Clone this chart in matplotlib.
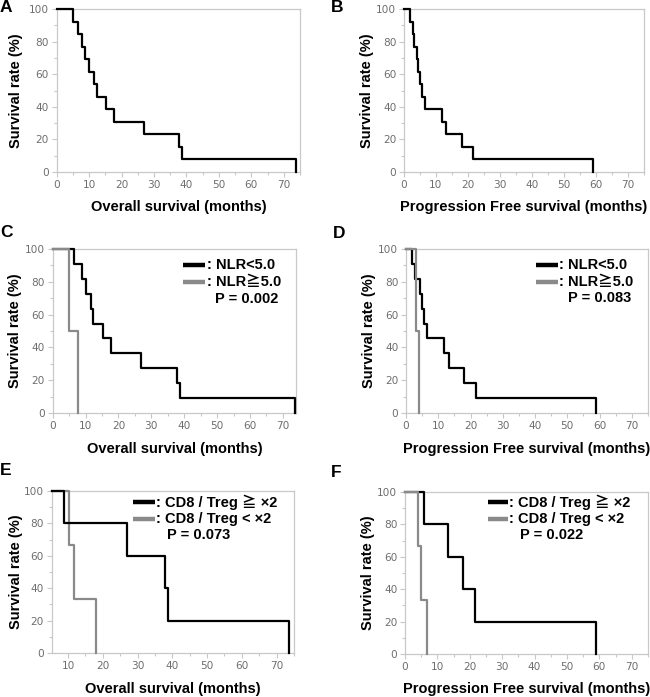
import matplotlib
matplotlib.use("Agg")
import matplotlib.pyplot as plt
from matplotlib.ticker import MultipleLocator

# Kaplan-Meier curves: time (months), survival (%)
# A: overall survival, all patients
os_all_t = [0, 4.9, 6.5, 7.7, 8.8, 10.0, 11.5, 12.4, 15.2, 17.8, 27.0, 37.8, 38.7, 73.7]
os_all_s = [100, 92.3, 84.6, 76.9, 69.2, 61.5, 53.8, 46.2, 38.5, 30.8, 23.1, 15.4, 7.7, 0]
# B: progression free survival, all patients
pfs_all_t = [0, 2.0, 2.8, 3.1, 4.0, 4.4, 4.9, 5.7, 6.5, 11.8, 13.2, 18.0, 21.7, 59.0]
pfs_all_s = [100, 92.3, 84.6, 76.9, 69.2, 61.5, 53.8, 46.2, 38.5, 30.8, 23.1, 15.4, 7.7, 0]
# C: OS by NLR
os_nlr_lo_t = [0, 6.5, 8.8, 10.0, 11.5, 12.4, 15.2, 17.8, 27.0, 37.8, 38.7, 73.7]
os_nlr_lo_s = [100, 90.9, 81.8, 72.7, 63.6, 54.5, 45.5, 36.4, 27.3, 18.2, 9.1, 0]
os_nlr_hi_t = [0, 4.9, 7.7]
os_nlr_hi_s = [100, 50, 0]
# D: PFS by NLR
pfs_nlr_lo_t = [0, 2.0, 2.8, 4.4, 4.9, 5.7, 6.5, 11.8, 13.2, 18.0, 21.7, 59.0]
pfs_nlr_lo_s = [100, 90.9, 81.8, 72.7, 63.6, 54.5, 45.5, 36.4, 27.3, 18.2, 9.1, 0]
pfs_nlr_hi_t = [0, 3.1, 4.0]
pfs_nlr_hi_s = [100, 50, 0]
# E: OS by CD8/Treg (x axis starts at ~5 months here)
os_cd8_hi_t = [5.3, 8.8, 27.0, 37.8, 38.7, 73.5]
os_cd8_hi_s = [100, 80, 60, 40, 20, 0]
os_cd8_lo_t = [5.3, 10.2, 11.6, 17.9]
os_cd8_lo_s = [100, 66.7, 33.3, 0]
# F: PFS by CD8/Treg
pfs_cd8_hi_t = [0, 5.8, 13.2, 17.9, 21.7, 58.8]
pfs_cd8_hi_s = [100, 80, 60, 40, 20, 0]
pfs_cd8_lo_t = [0, 3.9, 5.0, 6.7]
pfs_cd8_lo_s = [100, 66.7, 33.3, 0]

os_label = "Overall survival (months)"
pfs_label = "Progression Free survival (months)"
y_label = "Survival rate (%)"
nlr_names = [": NLR<5.0", ": NLR\u22675.0"]
cd8_names = [": CD8 / Treg \u2267 \u00d72", ": CD8 / Treg < \u00d72"]

W, H = 650, 697
BLACK = "#000000"
GRAY = "#8a8a8a"
SPINE = "#c8c8c8"
TICKC = "#6e6e6e"
BOLD = ["Liberation Sans", "Noto Sans CJK JP", "DejaVu Sans"]

fig = plt.figure(figsize=(W / 100, H / 100), dpi=100)


def make_ax(left, right, top, bottom, xlim, xlabel, ylab_off):
    ax = fig.add_axes([left / W, 1 - bottom / H, (right - left) / W, (bottom - top) / H])
    ax.set_xlim(*xlim)
    ax.set_ylim(0, 100)
    ax.xaxis.set_major_locator(MultipleLocator(10))
    ax.xaxis.set_minor_locator(MultipleLocator(5))
    ax.yaxis.set_major_locator(MultipleLocator(20))
    ax.yaxis.set_minor_locator(MultipleLocator(10))
    for s in ax.spines.values():
        s.set_color(SPINE)
        s.set_linewidth(0.9)
    ax.tick_params(which="both", direction="out", color=SPINE, width=0.8,
                   labelcolor=TICKC, labelsize=7.6, pad=2)
    ax.tick_params(which="major", length=3.5)
    ax.tick_params(which="minor", length=2.5)
    ax.set_xlabel(xlabel, fontsize=10.5, fontweight="bold", family=BOLD)
    ax.set_ylabel(y_label, fontsize=10.5, fontweight="bold", family=BOLD)
    w = right - left
    h = bottom - top
    ax.xaxis.set_label_coords(0.5, -35.5 / h)
    ax.xaxis.label.set_va("center")
    ax.yaxis.set_label_coords(-ylab_off / w, 0.5)
    ax.yaxis.label.set_va("center")
    return ax


def km(ax, t, s, color, z=3):
    ax.step(t, s, where="post", color=color, lw=1.6, clip_on=False, zorder=z)


def legend(ax, names, hx0, hx1, tx, ys, px, py, pval):
    for name, y, c in zip(names, ys, [BLACK, GRAY]):
        ax.plot([hx0, hx1], [y, y], transform=ax.transAxes, color=c, lw=3.2,
                solid_capstyle="butt", clip_on=False)
        ax.text(tx, y, name, transform=ax.transAxes, va="center", ha="left",
                fontsize=10.5, fontweight="bold", family=BOLD)
    ax.text(px, py, pval, transform=ax.transAxes, va="center", ha="left",
            fontsize=10.5, fontweight="bold", family=BOLD)


# A
axA = make_ax(56.7, 300, 9, 172, (0, 75), os_label, 40.5)
km(axA, os_all_t, os_all_s, BLACK)
# B
axB = make_ax(404, 644, 9, 172, (0, 75), pfs_label, 37)
km(axB, pfs_all_t, pfs_all_s, BLACK)
# C
axC = make_ax(52.7, 296, 249, 413, (0, 74), os_label, 37.5)
km(axC, os_nlr_lo_t, os_nlr_lo_s, BLACK)
km(axC, os_nlr_hi_t, os_nlr_hi_s, GRAY)
legend(axC, nlr_names, 0.537, 0.627, 0.634, [0.900, 0.797], 0.668, 0.697, "P = 0.002")
# D
axD = make_ax(406, 648, 249, 413, (0, 75), pfs_label, 37)
km(axD, pfs_nlr_lo_t, pfs_nlr_lo_s, BLACK)
km(axD, pfs_nlr_hi_t, pfs_nlr_hi_s, GRAY)
legend(axD, nlr_names, 0.537, 0.628, 0.634, [0.905, 0.800], 0.668, 0.700, "P = 0.083")
# E
axE = make_ax(51.7, 294, 491, 653, (5.3, 75), os_label, 35.7)
km(axE, os_cd8_lo_t, os_cd8_lo_s, GRAY)
km(axE, os_cd8_hi_t, os_cd8_hi_s, BLACK, z=4)
legend(axE, cd8_names, 0.336, 0.426, 0.432, [0.930, 0.827], 0.476, 0.728, "P = 0.073")
# F
axF = make_ax(405, 648, 492, 654, (0, 75), pfs_label, 37)
km(axF, pfs_cd8_hi_t, pfs_cd8_hi_s, BLACK)
km(axF, pfs_cd8_lo_t, pfs_cd8_lo_s, GRAY)
legend(axF, cd8_names, 0.342, 0.424, 0.430, [0.938, 0.833], 0.473, 0.735, "P = 0.022")

# panel letters
for letter, x, y in [("A", 0, 0), ("B", 331, 0), ("C", 0, 225), ("D", 333, 226),
                     ("E", 0, 463), ("F", 331, 465)]:
    fig.text(x / W, 1 - y / H, letter, ha="left", va="top", fontsize=12.5,
             fontweight="bold", family=BOLD)

fig.savefig("out.png", dpi=100)
